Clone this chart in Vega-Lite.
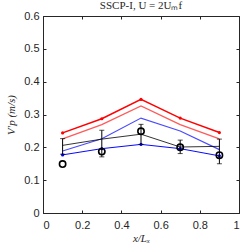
{
  "$schema": "https://vega.github.io/schema/vega-lite/v6.json",
  "width": 196,
  "height": 197,
  "autosize": {"type": "none"},
  "padding": {"left": 43, "top": 16, "right": 4, "bottom": 36},
  "background": "white",
  "view": {"stroke": "#262626", "strokeWidth": 1},
  "title": {"text": "SSCP-I, U = 2Uₘf", "font": "Liberation Serif", "fontSize": 11, "fontWeight": "normal", "color": "#262626", "offset": -1, "anchor": "middle", "frame": "group"},
  "config": {
    "axis": {"labelFont": "Liberation Sans", "labelFontSize": 11, "labelColor": "#262626", "domainColor": "#262626", "tickColor": "#262626", "grid": false, "tickSize": -3, "titleFont": "Liberation Serif", "titleFontStyle": "italic", "titleFontWeight": "normal", "titleFontSize": 11, "titleColor": "#262626"}
  },
  "datasets": {
    "lines": [
      {"x": 0.1, "s": "R", "v": 0.244}, {"x": 0.3, "s": "R", "v": 0.287}, {"x": 0.5, "s": "R", "v": 0.346}, {"x": 0.7, "s": "R", "v": 0.289}, {"x": 0.9, "s": "R", "v": 0.245},
      {"x": 0.1, "s": "r", "v": 0.226}, {"x": 0.3, "s": "r", "v": 0.269}, {"x": 0.5, "s": "r", "v": 0.326}, {"x": 0.7, "s": "r", "v": 0.269}, {"x": 0.9, "s": "r", "v": 0.226},
      {"x": 0.1, "s": "b", "v": 0.189}, {"x": 0.3, "s": "b", "v": 0.226}, {"x": 0.5, "s": "b", "v": 0.289}, {"x": 0.7, "s": "b", "v": 0.25}, {"x": 0.9, "s": "b", "v": 0.193},
      {"x": 0.1, "s": "B", "v": 0.177}, {"x": 0.3, "s": "B", "v": 0.196}, {"x": 0.5, "s": "B", "v": 0.209}, {"x": 0.7, "s": "B", "v": 0.196}, {"x": 0.9, "s": "B", "v": 0.174},
      {"x": 0.1, "s": "K", "v": 0.206}, {"x": 0.3, "s": "K", "v": 0.225}, {"x": 0.5, "s": "K", "v": 0.24}, {"x": 0.7, "s": "K", "v": 0.201}, {"x": 0.9, "s": "K", "v": 0.203}
    ],
    "exp": [
      {"x": 0.1, "v": 0.149, "lo": 0.179, "hi": 0.2265},
      {"x": 0.3, "v": 0.187, "lo": 0.171, "hi": 0.252},
      {"x": 0.5, "v": 0.249, "lo": 0.209, "hi": 0.27},
      {"x": 0.7, "v": 0.2, "lo": 0.181, "hi": 0.222},
      {"x": 0.9, "v": 0.176, "lo": 0.15, "hi": 0.225}
    ]
  },
  "resolve": {"axis": {"x": "independent", "y": "independent"}},
  "layer": [
    {
      "data": {"name": "lines"},
      "mark": {"type": "line"},
      "encoding": {
        "x": {"field": "x", "type": "quantitative", "scale": {"domain": [0, 1], "nice": false}, "axis": {"values": [0, 0.2, 0.4, 0.6, 0.8, 1], "format": "~g", "title": "x/Lₓ", "labelPadding": 9, "titlePadding": 2}},
        "y": {"field": "v", "type": "quantitative", "scale": {"domain": [0, 0.6], "nice": false}, "axis": {"values": [0, 0.1, 0.2, 0.3, 0.4, 0.5, 0.6], "format": "~g", "title": "V′p (m/s)", "labelPadding": 7, "titlePadding": 7}},
        "detail": {"field": "s"},
        "color": {"field": "s", "type": "nominal", "scale": {"domain": ["R", "r", "b", "B", "K"], "range": ["#ff0000", "#ff5a5a", "#4a4aff", "#0000ff", "#000000"]}, "legend": null},
        "strokeWidth": {"field": "s", "type": "nominal", "scale": {"domain": ["R", "r", "b", "B", "K"], "range": [1.5, 0.8, 0.8, 1.5, 1.3]}, "legend": null}
      }
    },
    {
      "data": {"name": "lines"},
      "transform": [{"filter": "datum.s === 'R' || datum.s === 'B'"}],
      "mark": {"type": "point", "filled": true, "size": 10, "opacity": 1},
      "encoding": {
        "x": {"field": "x", "type": "quantitative", "axis": {"orient": "top", "values": [0, 0.2, 0.4, 0.6, 0.8, 1], "labels": false, "title": null, "domain": false}},
        "y": {"field": "v", "type": "quantitative", "axis": {"orient": "right", "values": [0, 0.1, 0.2, 0.3, 0.4, 0.5, 0.6], "labels": false, "title": null, "domain": false}},
        "color": {"field": "s", "type": "nominal", "scale": {"domain": ["R", "r", "b", "B", "K"], "range": ["#ff0000", "#ff5a5a", "#4a4aff", "#0000ff", "#000000"]}, "legend": null}
      }
    },
    {
      "data": {"name": "exp"},
      "mark": {"type": "rule", "color": "#000000", "strokeWidth": 1},
      "encoding": {
        "x": {"field": "x", "type": "quantitative", "axis": null},
        "y": {"field": "lo", "type": "quantitative", "axis": null},
        "y2": {"field": "hi"}
      }
    },
    {
      "data": {"name": "exp"},
      "mark": {"type": "tick", "color": "#000000", "orient": "horizontal", "size": 5, "thickness": 1},
      "encoding": {
        "x": {"field": "x", "type": "quantitative", "axis": null},
        "y": {"field": "lo", "type": "quantitative", "axis": null}
      }
    },
    {
      "data": {"name": "exp"},
      "mark": {"type": "tick", "color": "#000000", "orient": "horizontal", "size": 5, "thickness": 1},
      "encoding": {
        "x": {"field": "x", "type": "quantitative", "axis": null},
        "y": {"field": "hi", "type": "quantitative", "axis": null}
      }
    },
    {
      "data": {"name": "exp"},
      "mark": {"type": "point", "shape": "circle", "filled": false, "color": "#000000", "size": 40, "strokeWidth": 1.6, "opacity": 1},
      "encoding": {
        "x": {"field": "x", "type": "quantitative", "axis": null},
        "y": {"field": "v", "type": "quantitative", "axis": null}
      }
    }
  ]
}
